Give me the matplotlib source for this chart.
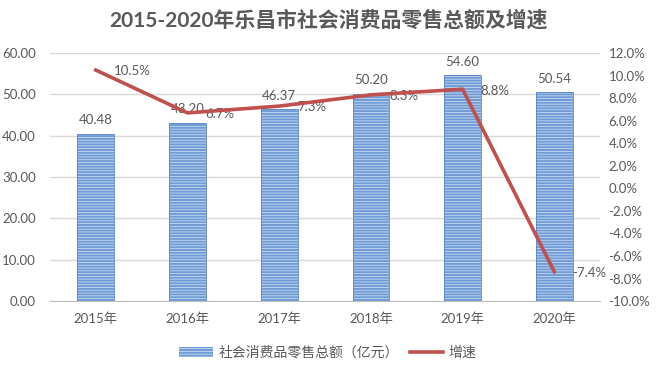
import matplotlib
matplotlib.use('Agg')
import matplotlib.pyplot as plt
from matplotlib.lines import Line2D
from matplotlib.patches import Patch

plt.rcParams['font.family'] = ['Lato', 'Noto Sans CJK SC', 'DejaVu Sans']
plt.rcParams['hatch.linewidth'] = 0.6

years = ['2015年', '2016年', '2017年', '2018年', '2019年', '2020年']
sales = [40.48, 43.20, 46.37, 50.20, 54.60, 50.54]
growth = [10.5, 6.7, 7.3, 8.3, 8.8, -7.4]

grey = '#595959'
bar_col = '#6F9BD6'
line_col = '#C0504D'

fig = plt.figure(figsize=(6.56, 3.69), dpi=100)
ax = fig.add_axes([0.076, 0.184, 0.839, 0.672])
ax2 = ax.twinx()

x = range(len(years))
bars = ax.bar(x, sales, width=0.4, color=bar_col, edgecolor='#C9DAF0',
              hatch='------', linewidth=0, zorder=2)
ax.bar(x, sales, width=0.4, color='none', edgecolor='#5B86C2', linewidth=0.6, zorder=3)

for i, v in enumerate(sales):
    ax.text(i, v + 1.8, f'{v:.2f}', ha='center', va='bottom', fontsize=9.5, color=grey)

ax.set_ylim(0, 60)
ax.set_yticks(range(0, 61, 10))
ax.set_yticklabels([f'{v:.2f}' for v in range(0, 61, 10)])
ax.set_xlim(-0.5, 5.5)
ax.set_xticks(list(x))
ax.set_xticklabels(years)
ax.grid(axis='y', color='#D9D9D9', linewidth=1, zorder=0)
ax.set_axisbelow(True)

ax2.plot(list(x), growth, color=line_col, linewidth=2.6, zorder=4)
for i, g in enumerate(growth):
    ax2.annotate(f'{g:.1f}%', (i, g), xytext=(13, -1), textcoords='offset points',
                 ha='left', va='center', fontsize=9.5, color=grey)
ax2.set_ylim(-10, 12)
ax2.set_yticks(range(-10, 13, 2))
ax2.set_yticklabels([f'{v:.1f}%' for v in range(-10, 13, 2)])

for a in (ax, ax2):
    for s in a.spines.values():
        s.set_visible(False)
    a.tick_params(length=0, labelsize=9.5, colors=grey)
ax.spines['bottom'].set_visible(True)
ax.spines['bottom'].set_color('#BFBFBF')
ax.tick_params(axis='x', pad=8)
ax.tick_params(axis='y', pad=10)
ax2.tick_params(axis='y', pad=6)

fig.text(0.5, 0.945, '2015-2020年乐昌市社会消费品零售总额及增速', ha='center', va='center',
         fontsize=15, fontweight='bold', color=grey)

handles = [Patch(facecolor=bar_col, edgecolor='#C9DAF0', hatch='------', linewidth=0),
           Line2D([0], [0], color=line_col, linewidth=2.6)]
fig.legend(handles, ['社会消费品零售总额（亿元）', '增速'], loc='center',
           bbox_to_anchor=(0.5, 0.045), ncol=2, frameon=False, fontsize=10,
           labelcolor=grey, handlelength=2.4, columnspacing=0.8, handletextpad=0.4)

fig.savefig('out.png', dpi=100)
